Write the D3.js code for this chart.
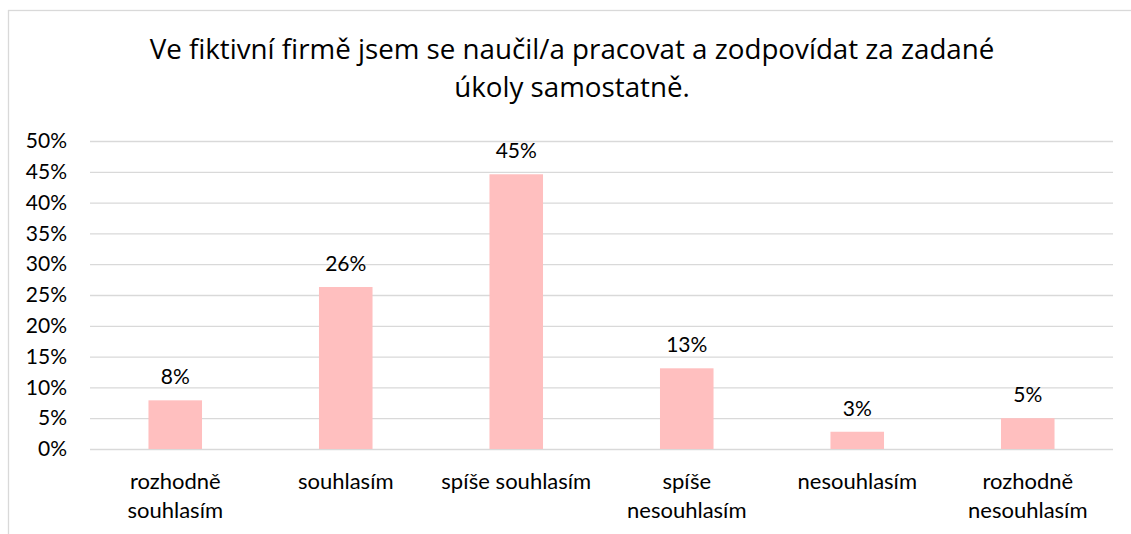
<!DOCTYPE html>
<html>
<head>
<meta charset="utf-8">
<script src="https://cdn.jsdelivr.net/npm/d3@7"></script>
<style>
  html, body { margin: 0; padding: 0; background: #fff; }
  svg { display: block; font-family: Lato, "Open Sans", sans-serif; }
</style>
</head>
<body>
<div id="chart"></div>
<script>
// chart data
var titleLines = ["Ve fiktivní firmě jsem se naučil/a pracovat a zodpovídat za zadané", "úkoly samostatně."];
var categories = [
    ["rozhodně", "souhlasím"],
    ["souhlasím"],
    ["spíše souhlasím"],
    ["spíše", "nesouhlasím"],
    ["nesouhlasím"],
    ["rozhodně", "nesouhlasím"]
];
var values = [0.079, 0.263, 0.446, 0.131, 0.028, 0.050];
var labels = ["8%", "26%", "45%", "13%", "3%", "5%"];
var yTicks = [0, 0.05, 0.10, 0.15, 0.20, 0.25, 0.30, 0.35, 0.40, 0.45, 0.50];

var width = 1131, height = 534;
var margin = {top: 141, right: 18, bottom: 85, left: 90};

var svg = d3.select('#chart').append('svg')
    .attr('width', width)
    .attr('height', height);

// outer chart border (only left/top fall inside the window)
svg.append('rect')
    .attr('x', 8.5)
    .attr('y', 10.5)
    .attr('width', 1140)
    .attr('height', 540)
    .attr('fill', 'none')
    .attr('stroke', '#d9d9d9')
    .attr('stroke-width', 1.3);

var x = d3.scaleBand()
    .domain(d3.range(values.length))
    .range([margin.left, width - margin.right])
    .paddingInner(0.686)
    .paddingOuter(0.343);

var y = d3.scaleLinear()
    .domain([0, 0.5])
    .range([height - margin.bottom, margin.top]);

// title, sized so the first line spans ~845px like the original
var title = svg.append('text')
    .attr('text-anchor', 'middle')
    .attr('font-family', '"Open Sans", sans-serif')
    .attr('font-size', 24)
    .attr('fill', '#000');
title.selectAll('tspan')
    .data(titleLines)
    .enter().append('tspan')
    .attr('x', 572)
    .attr('y', function (d, i) { return 59 + i * 38; })
    .text(function (d) { return d; });
var firstLen = title.select('tspan').node().getComputedTextLength();
title.attr('font-size', 24 * 845 / firstLen);

// y axis with gridlines
var yAxis = d3.axisLeft(y)
    .tickValues(yTicks)
    .tickFormat(d3.format('.0%'))
    .tickSize(-(width - margin.left - margin.right))
    .tickPadding(23);

var gy = svg.append('g')
    .attr('transform', 'translate(' + margin.left + ',0)')
    .call(yAxis);
gy.select('.domain').remove();
gy.selectAll('.tick line')
    .attr('stroke', '#d9d9d9')
    .attr('stroke-width', 1.3);
gy.selectAll('.tick text')
    .attr('font-size', 21)
    .attr('font-family', 'Lato, sans-serif')
    .attr('fill', '#000');

// bars
svg.append('g').selectAll('rect')
    .data(values)
    .enter().append('rect')
    .attr('x', function (d, i) { return x(i); })
    .attr('y', function (d) { return y(d); })
    .attr('width', x.bandwidth())
    .attr('height', function (d) { return y(0) - y(d); })
    .attr('fill', '#ffbfbf');

// data labels
svg.append('g').selectAll('text')
    .data(values)
    .enter().append('text')
    .attr('x', function (d, i) { return x(i) + x.bandwidth() / 2; })
    .attr('y', function (d) { return y(d) - 16; })
    .attr('text-anchor', 'middle')
    .attr('font-size', 21)
    .attr('fill', '#000')
    .text(function (d, i) { return labels[i]; });

// category labels
var cat = svg.append('g').selectAll('text')
    .data(categories)
    .enter().append('text')
    .attr('text-anchor', 'middle')
    .attr('font-size', 22)
    .attr('fill', '#000');
cat.selectAll('tspan')
    .data(function (d, i) { return d.map(function (t) { return {t: t, i: i}; }); })
    .enter().append('tspan')
    .attr('x', function (d) { return x(d.i) + x.bandwidth() / 2; })
    .attr('y', function (d, j) { return 489 + j * 29; })
    .text(function (d) { return d.t; });
</script>
</body>
</html>
